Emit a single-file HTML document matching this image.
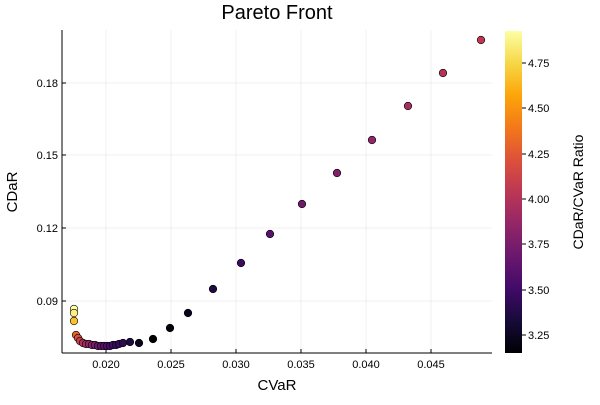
<!DOCTYPE html><html><head><style>body{margin:0;background:#fff}svg{font-family:"Liberation Sans","DejaVu Sans",sans-serif}</style></head><body>
<svg id="s" width="600" height="400" xmlns="http://www.w3.org/2000/svg">
<defs><linearGradient id="g" x1="0" y1="1" x2="0" y2="0">
<stop offset="0" stop-color="#000004"/><stop offset="0.1" stop-color="#160b39"/><stop offset="0.2" stop-color="#420a68"/><stop offset="0.3" stop-color="#6a176e"/><stop offset="0.4" stop-color="#932667"/><stop offset="0.5" stop-color="#bc3754"/><stop offset="0.6" stop-color="#dd513a"/><stop offset="0.7" stop-color="#f37819"/><stop offset="0.8" stop-color="#fca50a"/><stop offset="0.9" stop-color="#f6d746"/><stop offset="1" stop-color="#fcffa4"/></linearGradient></defs>
<g stroke="#000" stroke-opacity="0.06" stroke-width="1">
<line x1="106" y1="30" x2="106" y2="353"/><line x1="171" y1="30" x2="171" y2="353"/><line x1="236" y1="30" x2="236" y2="353"/><line x1="301" y1="30" x2="301" y2="353"/><line x1="366" y1="30" x2="366" y2="353"/><line x1="431" y1="30" x2="431" y2="353"/>
<line x1="62" y1="301" x2="492" y2="301"/><line x1="62" y1="228" x2="492" y2="228"/><line x1="62" y1="155" x2="492" y2="155"/><line x1="62" y1="83" x2="492" y2="83"/>
</g>
<g stroke="#000" stroke-width="1">
<line x1="62" y1="30" x2="62" y2="353"/><line x1="62" y1="353" x2="492" y2="353"/>
<line x1="106" y1="353" x2="106" y2="349"/><line x1="171" y1="353" x2="171" y2="349"/><line x1="236" y1="353" x2="236" y2="349"/><line x1="301" y1="353" x2="301" y2="349"/><line x1="366" y1="353" x2="366" y2="349"/><line x1="431" y1="353" x2="431" y2="349"/>
<line x1="62" y1="301" x2="66" y2="301"/><line x1="62" y1="228" x2="66" y2="228"/><line x1="62" y1="155" x2="66" y2="155"/><line x1="62" y1="83" x2="66" y2="83"/>
</g>
<g font-size="11" fill="#000" text-anchor="middle">
<text x="106" y="368">0.020</text><text x="171" y="368">0.025</text><text x="236" y="368">0.030</text><text x="301" y="368">0.035</text><text x="366" y="368">0.040</text><text x="431" y="368">0.045</text></g>
<g font-size="11" fill="#000" text-anchor="end">
<text x="58" y="305">0.09</text><text x="58" y="232">0.12</text><text x="58" y="159">0.15</text><text x="58" y="87">0.18</text></g>
<text x="277" y="19" font-size="20" text-anchor="middle">Pareto Front</text>
<text x="277" y="390" font-size="15" text-anchor="middle">CVaR</text>
<text x="17" y="192" font-size="15" text-anchor="middle" transform="rotate(-90 17 192)">CDaR</text>
<rect x="505" y="31" width="17" height="322" fill="url(#g)"/>
<g stroke="#000"><line x1="522" y1="63" x2="526" y2="63"/><line x1="522" y1="108" x2="526" y2="108"/><line x1="522" y1="154" x2="526" y2="154"/><line x1="522" y1="199" x2="526" y2="199"/><line x1="522" y1="244" x2="526" y2="244"/><line x1="522" y1="290" x2="526" y2="290"/><line x1="522" y1="335" x2="526" y2="335"/></g>
<g font-size="11"><text x="528" y="67">4.75</text><text x="528" y="112">4.50</text><text x="528" y="158">4.25</text><text x="528" y="203">4.00</text><text x="528" y="248">3.75</text><text x="528" y="294">3.50</text><text x="528" y="339">3.25</text></g>
<text x="583" y="192" font-size="14" text-anchor="middle" transform="rotate(-90 583 192)">CDaR/CVaR Ratio</text>
<g id="pts"></g>
</svg>
<script>
var P=[[74,309],[74,313],[74,321],[76,335],[78,338],[80,341],[83,343],[86,344],[89,344],[92,345],[95,345],[98,346],[101,346],[104,346],[107,346],[110,346],[113,345],[116,345],[119,344],[123,343],[130,342],[139,343],[153,339],[170,328],[188,313],[213,289],[241,263],[270,234],[302,204],[337,173],[372,140],[408,106],[443,73],[481,40]];
var S=["#000004","#160b39","#420a68","#6a176e","#932667","#bc3754","#dd513a","#f37819","#fca50a","#f6d746","#fcffa4"];
function h(c){return [1,3,5].map(i=>parseInt(c.substr(i,2),16));}
function cm(t){t=Math.max(0,Math.min(1,t))*10;var i=Math.min(9,Math.floor(t)),f=t-i,a=h(S[i]),b=h(S[i+1]);return "rgb("+a.map((v,k)=>Math.round(v+(b[k]-v)*f)).join(",")+")";}
var g=document.getElementById("pts"),o="";
P.forEach(function(p){var x=0.02+(p[0]-106)/13000,y=0.09+(301-p[1])/2433,r=y/x;var t=(r-3.15)/(4.92-3.15);
o+='<circle cx="'+p[0]+'" cy="'+p[1]+'" r="3.8" fill="'+cm(t)+'" stroke="#000" stroke-width="0.6"/>';});
g.innerHTML=o;
</script>
</body></html>
